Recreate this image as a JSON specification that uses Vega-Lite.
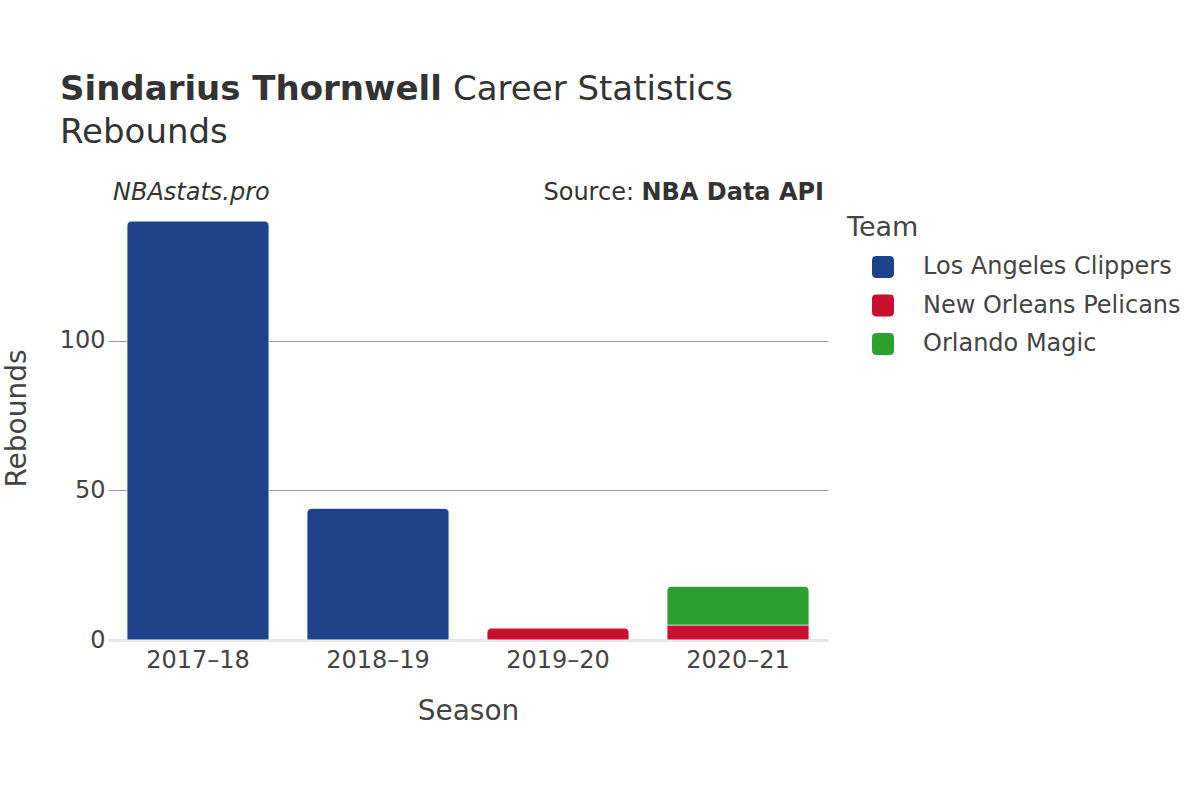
{
  "$schema": "https://vega.github.io/schema/vega-lite/v6.json",
  "width": 720,
  "height": 419,
  "autosize": {"type": "none"},
  "padding": {"left": 108, "top": 221, "right": 372, "bottom": 160},
  "background": "white",
  "config": {
    "font": "DejaVu Sans",
    "view": {"stroke": null},
    "axis": {"labelColor": "#444444", "titleColor": "#444444", "labelFont": "DejaVu Sans", "titleFont": "DejaVu Sans", "titleFontWeight": "normal"},
    "legend": {"labelColor": "#444444", "titleColor": "#444444", "titleFontWeight": "normal"}
  },
  "datasets": {
    "stats": [
      {"Season": "2017–18", "Team": "Los Angeles Clippers", "Rebounds": 140},
      {"Season": "2018–19", "Team": "Los Angeles Clippers", "Rebounds": 44},
      {"Season": "2019–20", "Team": "New Orleans Pelicans", "Rebounds": 4},
      {"Season": "2020–21", "Team": "New Orleans Pelicans", "Rebounds": 5},
      {"Season": "2020–21", "Team": "Orlando Magic", "Rebounds": 13}
    ]
  },
  "layer": [
    {
      "data": {"name": "stats"},
      "mark": {
        "type": "bar",
        "stroke": "white",
        "strokeWidth": 0.6,
        "cornerRadiusTopLeft": {"expr": "datum.Team === 'New Orleans Pelicans' && datum.Season === '2020–21' ? 0 : 5"},
        "cornerRadiusTopRight": {"expr": "datum.Team === 'New Orleans Pelicans' && datum.Season === '2020–21' ? 0 : 5"}
      },
      "encoding": {
        "x": {
          "field": "Season",
          "type": "nominal",
          "sort": ["2017–18", "2018–19", "2019–20", "2020–21"],
          "scale": {"paddingInner": 0.21, "paddingOuter": 0.105},
          "axis": {"labelAngle": 0, "labelFontSize": 24, "titleFontSize": 28, "ticks": false, "domain": false, "labelPadding": 8, "titlePadding": 25, "title": "Season"}
        },
        "y": {
          "aggregate": "sum",
          "field": "Rebounds",
          "type": "quantitative",
          "stack": "zero",
          "scale": {"domain": [0, 140], "nice": false},
          "axis": {
            "values": [0, 50, 100],
            "title": "Rebounds",
            "titleFontSize": 28,
            "labelFontSize": 24,
            "labelPadding": 3,
            "ticks": false,
            "domain": false,
            "grid": true,
            "gridColor": {"condition": {"test": "datum.value === 0", "value": "#e6e6e6"}, "value": "#999999"},
            "gridWidth": {"condition": {"test": "datum.value === 0", "value": 3}, "value": 1},
            "titleAngle": -90,
            "titleX": -83,
            "titleY": 197,
            "titleAlign": "center",
            "titleBaseline": "alphabetic"
          }
        },
        "color": {
          "field": "Team",
          "type": "nominal",
          "scale": {"domain": ["Los Angeles Clippers", "New Orleans Pelicans", "Orlando Magic"], "range": ["#1d428a", "#c8102e", "#2ca02c"]},
          "legend": {
            "title": "Team",
            "orient": "none",
            "legendX": 739,
            "legendY": -6,
            "titleFontSize": 27,
            "labelFontSize": 24,
            "labelLimit": 400,
            "symbolType": "M-0.6,-1H0.6Q1,-1 1,-0.6V0.6Q1,1 0.6,1H-0.6Q-1,1 -1,0.6V-0.6Q-1,-1 -0.6,-1Z",
            "symbolSize": 484,
            "symbolStrokeWidth": 0,
            "symbolOpacity": 1,
            "symbolOffset": 24,
            "labelOffset": 28,
            "rowPadding": 14.5,
            "titlePadding": 13,
            "padding": 0
          }
        },
        "order": {"field": "Team", "sort": "ascending"}
      }
    },
    {
      "data": {"values": [{}]},
      "mark": {"type": "text", "text": "Sindarius Thornwell", "fontSize": 34, "fontWeight": "bold", "color": "#333333", "align": "left", "baseline": "alphabetic"},
      "encoding": {"x": {"value": -48}, "y": {"value": -121}}
    },
    {
      "data": {"values": [{}]},
      "mark": {"type": "text", "text": "Career Statistics", "fontSize": 34, "color": "#333333", "align": "left", "baseline": "alphabetic"},
      "encoding": {"x": {"value": 345}, "y": {"value": -121}}
    },
    {
      "data": {"values": [{}]},
      "mark": {"type": "text", "text": "Rebounds", "fontSize": 34, "color": "#333333", "align": "left", "baseline": "alphabetic"},
      "encoding": {"x": {"value": -48}, "y": {"value": -78}}
    },
    {
      "data": {"values": [{}]},
      "mark": {"type": "text", "text": "NBAstats.pro", "fontSize": 24, "fontStyle": "italic", "color": "#333333", "align": "left", "baseline": "alphabetic"},
      "encoding": {"x": {"value": 5}, "y": {"value": -21}}
    },
    {
      "data": {"values": [{}]},
      "mark": {"type": "text", "text": "Source:", "fontSize": 24, "color": "#333333", "align": "right", "baseline": "alphabetic"},
      "encoding": {"x": {"value": 526}, "y": {"value": -21}}
    },
    {
      "data": {"values": [{}]},
      "mark": {"type": "text", "text": "NBA Data API", "fontSize": 24, "fontWeight": "bold", "color": "#333333", "align": "right", "baseline": "alphabetic"},
      "encoding": {"x": {"value": 716}, "y": {"value": -21}}
    }
  ]
}
